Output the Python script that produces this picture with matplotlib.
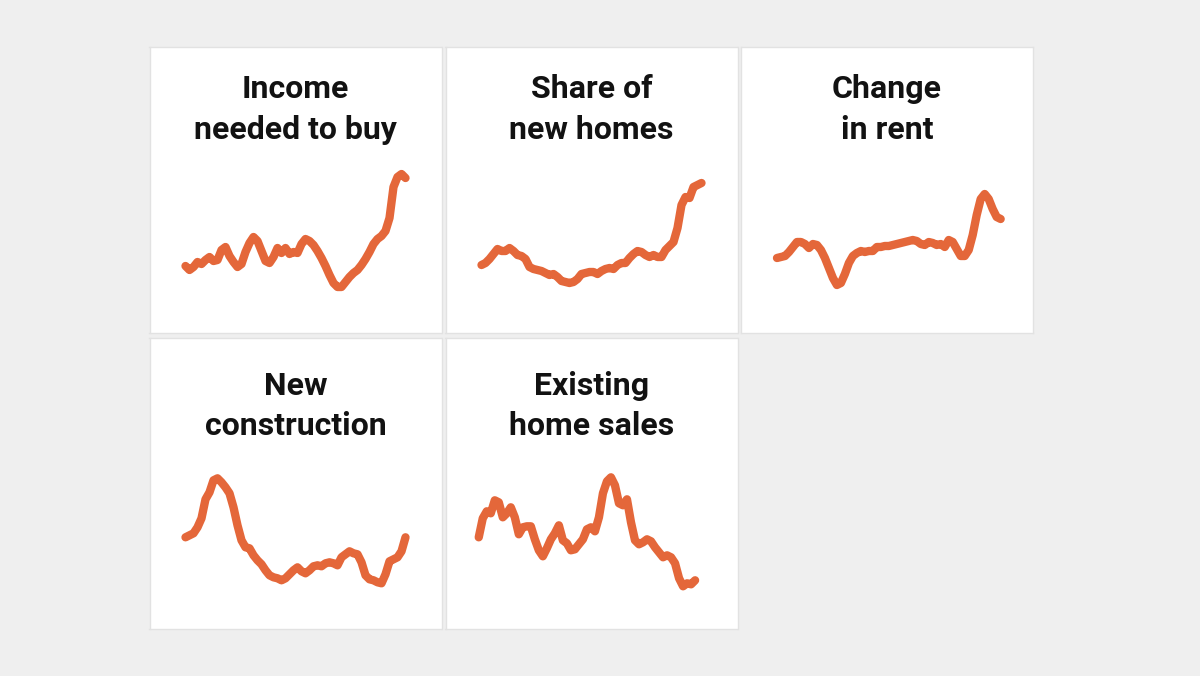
import matplotlib.pyplot as plt
import numpy as np

# Panel titles
titles = [
    "Income\nneeded to buy",
    "Share of\nnew homes",
    "Change\nin rent",
    "New\nconstruction",
    "Existing\nhome sales",
]

# Indexed values, evenly spaced in time
income_needed = [67, 63, 66, 71, 69, 73, 76, 72, 73, 83, 86, 77, 71, 66, 69, 81, 90, 96, 92, 82,
                 72, 70, 76, 85, 80, 85, 79, 81, 80, 89, 94, 92, 88, 82, 75, 67, 58, 50, 46, 46,
                 51, 56, 60, 63, 68, 74, 81, 89, 94, 97, 102, 115, 146, 156, 159, 155]
share_new_homes = [68, 70, 74, 79, 84, 82, 82, 85, 82, 78, 77, 74, 66, 64, 63, 62, 60, 58, 59, 56,
                   52, 51, 50, 51, 54, 59, 60, 61, 61, 59, 62, 64, 65, 64, 68, 70, 70, 75, 79, 82,
                   81, 78, 76, 78, 76, 76, 83, 87, 91, 105, 128, 136, 135, 146, 148, 150]
change_in_rent = [75, 76, 77, 81, 86, 91, 91, 89, 85, 89, 88, 83, 75, 65, 55, 48, 50, 59, 70, 77,
                  80, 82, 81, 82, 82, 86, 86, 87, 87, 88, 89, 90, 91, 92, 93, 92, 89, 88, 91, 90,
                  88, 89, 86, 93, 91, 84, 77, 77, 83, 98, 118, 134, 139, 134, 124, 116, 114]
new_construction = [92, 94, 96, 102, 111, 130, 137, 149, 151, 147, 142, 136, 122, 104, 89, 82, 81,
                    74, 69, 65, 59, 54, 52, 51, 49, 51, 55, 59, 62, 58, 56, 59, 63, 64, 63, 66, 67,
                    66, 64, 72, 75, 78, 76, 75, 67, 54, 50, 49, 47, 46, 55, 68, 70, 72, 78, 92]
existing_sales = [92, 111, 118, 116, 129, 127, 112, 116, 122, 112, 95, 102, 103, 103, 90, 79, 73,
                  81, 90, 96, 104, 89, 86, 79, 80, 85, 90, 100, 102, 98, 112, 136, 148, 152, 144,
                  126, 124, 130, 107, 89, 85, 87, 90, 88, 82, 77, 72, 74, 72, 66, 51, 43, 46, 45, 49]
series = [income_needed, share_new_homes, change_in_rent, new_construction, existing_sales]

# Time span of each series (years)
spans = [(2000, 2024), (2000, 2024), (2000, 2024.4), (2000, 2024), (1999.7, 2023.3)]

LINE = "#e4673a"
BG = "#efefef"
W, H = 1200, 676

# panel boxes in pixels: left, top, width, height
cols = [149.5, 445.5, 741]
rows = [(46.7, 286.3), (337.5, 291.8)]
title_offsets = [(51.6, 92.6), (57.5, 97.5)]

fig = plt.figure(figsize=(12, 6.76), dpi=100, facecolor=BG)

for i, (title, vals, span) in enumerate(zip(titles, series, spans)):
    r, c = divmod(i, 3)
    left = cols[c]
    top, h = rows[r]
    w = 292
    ax = fig.add_axes([left / W, 1 - (top + h) / H, w / W, h / H])
    ax.set_facecolor("white")
    for s in ax.spines.values():
        s.set_color("#e2e2e2")
        s.set_linewidth(1)
    ax.set_xticks([])
    ax.set_yticks([])

    x = np.linspace(span[0], span[1], len(vals))
    ax.plot(x, vals, color=LINE, lw=6, solid_capstyle="round", solid_joinstyle="round")

    px_per_year = 220 / 24
    ax.set_xlim(2000 - 36 / px_per_year, 2000 + (w - 36) / px_per_year)
    ax.set_ylim(0, h)

    for line, off in zip(title.split("\n"), title_offsets[r]):
        ax.text(0.5, 1 - off / h, line, transform=ax.transAxes, ha="center", va="baseline",
                fontsize=23, family="Roboto", fontweight="bold", color="#121212")

fig.savefig("out.png", dpi=100, facecolor=BG)
